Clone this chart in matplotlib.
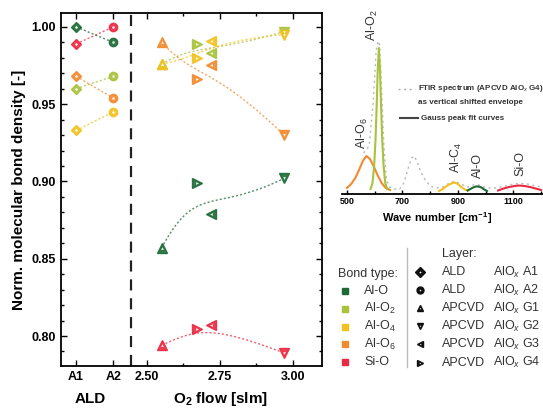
import numpy as np
import matplotlib.pyplot as plt
from math import comb
from matplotlib.ticker import MultipleLocator, FormatStrFormatter

plt.rcParams['font.family'] = ['Liberation Sans', 'DejaVu Sans']
plt.rcParams['mathtext.fontset'] = 'custom'
plt.rcParams['mathtext.rm'] = 'Liberation Sans'
plt.rcParams['mathtext.it'] = 'Liberation Sans:italic'
plt.rcParams['mathtext.bf'] = 'Liberation Sans:bold'

# bond types and colours
bonds = ['Al-O', 'Al-O$_2$', 'Al-O$_4$', 'Al-O$_6$', 'Si-O']
colors = ['#1d6a36', '#a9c23c', '#f3c11f', '#f28a2e', '#ea2a42']

# ALD layers A1, A2
ald_alo = [1.000, 0.990]
ald_alo2 = [0.960, 0.968]
ald_alo4 = [0.933, 0.945]
ald_alo6 = [0.968, 0.954]
ald_sio = [0.989, 1.000]

# APCVD layers G1, G2, G3, G4
o2_flow = [2.55, 2.97, 2.72, 2.67]
cvd_alo = [0.857, 0.902, 0.879, 0.899]
cvd_alo2 = [0.976, 0.997, 0.983, 0.989]
cvd_alo4 = [0.976, 0.995, 0.991, 0.980]
cvd_alo6 = [0.990, 0.930, 0.9755, 0.966]
cvd_sio = [0.794, 0.789, 0.807, 0.8045]

# FTIR envelope (G4) and gauss peak fits
ftir_wn = [560, 580, 595, 605, 612, 618, 625, 633, 642, 652, 670, 690, 705, 720, 733, 742,
           752, 765, 780, 800, 820, 845, 870, 890, 910, 935, 955, 975, 995, 1015, 1040,
           1070, 1100, 1125, 1150, 1180, 1205]
ftir_int = [38, 45, 90, 140, 150, 146, 100, 45, 12, 4, 2, 2, 8, 22, 33, 35,
            30, 20, 12, 5, 3, 4, 8, 10, 7, 4, 6, 6, 4, 3, 3,
            5, 7, 7.5, 7, 5, 4]
peak_o6_wn = [500, 515, 530, 545, 557, 570, 583, 596, 610, 625, 640, 655]
peak_o6 = [3, 7, 13, 22, 30, 35, 32, 25, 16, 8, 3, 1]
peak_o2_wn = [585, 592, 598, 603, 607, 611, 615, 619, 623, 627, 632, 638, 645]
peak_o2 = [2, 8, 25, 52, 85, 122, 143, 122, 85, 52, 25, 8, 2]
peak_o4_wn = [832, 848, 862, 876, 888, 900, 912, 925, 935]
peak_o4 = [0, 2.5, 5.5, 7.5, 8.5, 7, 4, 1.5, 0.5]
peak_alo_wn = [935, 945, 955, 965, 975, 985, 995, 1005]
peak_alo = [0.5, 2, 3.5, 4.5, 4.5, 3.5, 1.5, 0]
peak_sio_wn = [1045, 1065, 1085, 1105, 1120, 1140, 1160, 1180, 1200]
peak_sio = [0.5, 2.5, 4, 5, 5.5, 5, 4, 2.5, 1]

layer_names = ['ALD', 'ALD', 'APCVD', 'APCVD', 'APCVD', 'APCVD']
layer_ids = ['A1', 'A2', 'G1', 'G2', 'G3', 'G4']
layer_markers = ['D', 'o', '^', 'v', '<', '>']

x_a1, x_a2, x_sep = 2.257, 2.384, 2.445


def bezier(xs, ys, n=80):
    order = np.argsort(xs)
    px = np.asarray(xs, float)[order]
    py = np.asarray(ys, float)[order]
    k = len(px) - 1
    t = np.linspace(0, 1, n)[:, None]
    B = np.hstack([comb(k, i) * t ** i * (1 - t) ** (k - i) for i in range(k + 1)])
    return B @ px, B @ py


def marker(ax, x, y, m, c, ms=6.5, inner=0.3, **kw):
    ax.plot(x, y, m, ms=ms, mfc=c, mec=c, mew=1, zorder=4, **kw)
    if inner:
        ax.plot(x, y, m, ms=ms * inner, mfc='white', mec='white', mew=0, zorder=5, **kw)


fig = plt.figure(figsize=(5.43, 4.09), dpi=100)
ax = fig.add_axes([61 / 543, 1 - 366 / 409, 261 / 543, 353 / 409])

ald_sets = [ald_alo, ald_alo2, ald_alo4, ald_alo6, ald_sio]
cvd_sets = [cvd_alo, cvd_alo2, cvd_alo4, cvd_alo6, cvd_sio]
for vals, c in zip(ald_sets, colors):
    ax.plot([x_a1, x_a2], vals, color=c, lw=1, ls=(0, (1.5, 1.5)), alpha=0.75, zorder=2)
    marker(ax, x_a1, vals[0], 'D', c, ms=5.5, alpha=0.9)
    marker(ax, x_a2, vals[1], 'o', c, ms=6, alpha=0.9)
for vals, c in zip(cvd_sets, colors):
    bx, by = bezier(o2_flow, vals)
    ax.plot(bx, by, color=c, lw=1, ls=(0, (1.5, 1.5)), alpha=0.75, zorder=2)
    for x, y, m in zip(o2_flow, vals, layer_markers[2:]):
        marker(ax, x, y, m, c, alpha=0.9)

ax.axvline(x_sep, color='#222222', lw=1.6, ls=(0, (5, 3.5)), zorder=1)

ax.set_xlim(2.205, 3.10)
ax.set_ylim(0.7806, 1.009)
ax.set_xticks([x_a1, x_a2, 2.50, 2.75, 3.00])
ax.set_xticklabels(['A1', 'A2', '2.50', '2.75', '3.00'])
ax.set_xticks([2.625, 2.875], minor=True)
ax.yaxis.set_major_locator(MultipleLocator(0.05))
ax.yaxis.set_minor_locator(MultipleLocator(0.01))
ax.yaxis.set_major_formatter(FormatStrFormatter('%.2f'))
ax.tick_params(which='both', direction='in', top=True, right=True, width=1, labelsize=9)
ax.tick_params(which='major', length=4)
ax.tick_params(which='minor', length=2)
for lab in ax.get_xticklabels() + ax.get_yticklabels():
    lab.set_fontweight('bold')
for s in ax.spines.values():
    s.set_linewidth(1.3)
ax.set_ylabel('Norm. molecular bond density [-]', fontsize=11, fontweight='bold', labelpad=4)

# inset FTIR spectrum
iax = fig.add_axes([342 / 543, 1 - 194 / 409, 201 / 543, 184 / 409])
iax.set_facecolor('none')
iax.plot(ftir_wn, ftir_int, color='#b8b8b8', lw=1, ls=(0, (1.5, 2.5)))
peaks = [(peak_o6_wn, peak_o6, colors[3]), (peak_o2_wn, peak_o2, colors[1]),
         (peak_o4_wn, peak_o4, colors[2]), (peak_alo_wn, peak_alo, colors[0]),
         (peak_sio_wn, peak_sio, colors[4])]
for wn, it, c in peaks:
    iax.plot(wn, it, color=c, lw=1.5)
iax.set_xlim(482, 1207)
iax.set_ylim(-3, 181)
for s in ['top', 'left', 'right']:
    iax.spines[s].set_visible(False)
iax.spines['bottom'].set_linewidth(1.3)
iax.set_yticks([])
iax.set_xticks([500, 700, 900, 1100])
iax.set_xticks([600, 800, 1000, 1200], minor=True)
iax.tick_params(which='both', direction='in', width=1, labelsize=6.5, pad=2)
iax.tick_params(which='major', length=3)
iax.tick_params(which='minor', length=2)
for lab in iax.get_xticklabels():
    lab.set_fontweight('bold')

# overlay for labels and legends, in pixel coordinates
lay = fig.add_axes([0, 0, 1, 1])
lay.set_xlim(0, 543)
lay.set_ylim(409, 0)
lay.axis('off')
lay.set_facecolor('none')

lay.text(90, 399, 'ALD', fontsize=11, fontweight='bold', ha='center', va='center')
lay.text(220, 399, r'O$_\mathbf{2}$ flow [slm]', fontsize=11, fontweight='bold',
         ha='center', va='center')
lay.text(437, 218, r'Wave number [cm$^\mathbf{-1}$]', fontsize=8, fontweight='bold',
         ha='center', va='center')

txt = '#333333'
peak_labels = ['Al-O$_6$', 'Al-O$_2$', 'Al-C$_4$', 'Al-O', 'Si-O']
peak_label_xy = [(362, 133), (372, 25), (456, 157), (478, 166), (520, 163)]
for s, (x, y) in zip(peak_labels, peak_label_xy):
    lay.text(x, y, s, rotation=90, fontsize=9, color=txt, ha='center', va='center')

lay.plot([398, 415], [89, 89], color='#b0b0b0', lw=1, ls=(0, (1.5, 2.5)))
lay.plot([400, 418], [118, 118], color='#444444', lw=1.5)
lay.text(418, 89, 'FTIR spectrum (APCVD AlO$_x$ G4)', fontsize=5.8, fontweight='bold',
         color=txt, va='center')
lay.text(418, 103, 'as vertical shifted envelope', fontsize=5.8, fontweight='bold',
         color=txt, va='center')
lay.text(421, 118, 'Gauss peak fit curves', fontsize=5.8, fontweight='bold',
         color=txt, va='center')

# legend: bond type
lay.text(338, 274, 'Bond type:', fontsize=9, color=txt, va='center')
for i, (b, c) in enumerate(zip(bonds, colors)):
    y = 291 + i * 17.8
    lay.plot(345, y, 's', ms=4.5, mfc=c, mec=c)
    lay.text(364, y, b, fontsize=9, color=txt, va='center')

lay.plot([407, 407], [248, 367], color='#bbbbbb', lw=1)

# legend: layer
lay.text(442, 254, 'Layer:', fontsize=9, color=txt, va='center')
for i, (n, lid, m) in enumerate(zip(layer_names, layer_ids, layer_markers)):
    y = 272 + i * 18.1
    marker(lay, 420, y, m, '#111111', ms=5, inner=0.22)
    lay.text(442, y, n, fontsize=9, color=txt, va='center')
    lay.text(493, y, 'AlO$_x$ ' + lid, fontsize=9, color=txt, va='center')

fig.savefig('out.png', dpi=100)
